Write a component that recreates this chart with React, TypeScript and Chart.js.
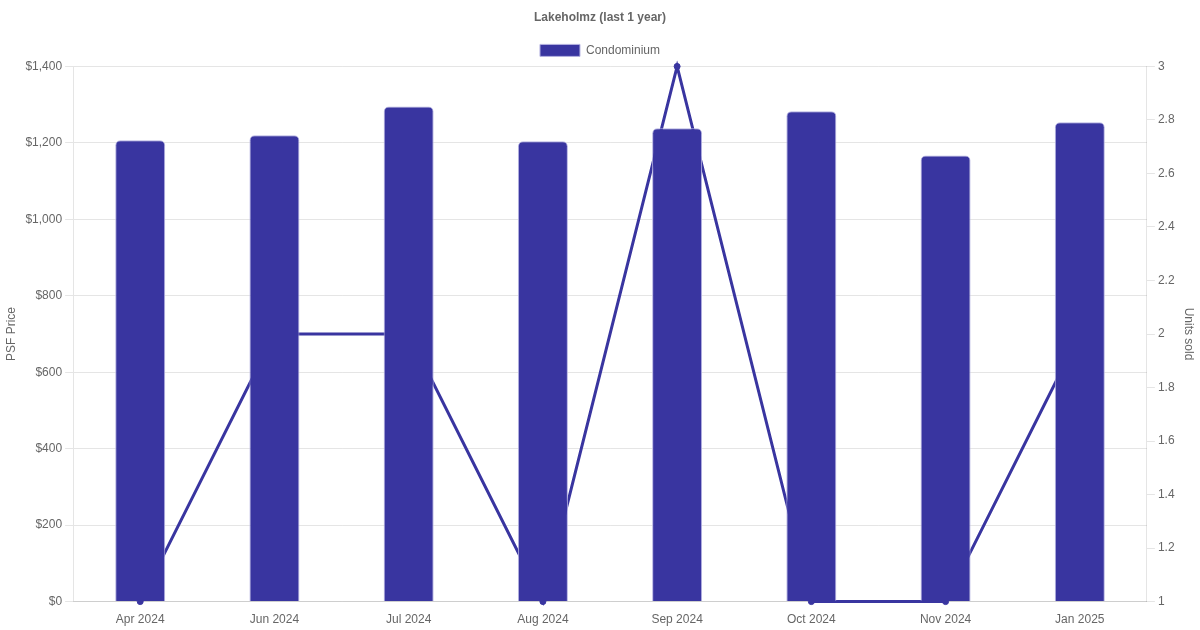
import React, { useEffect, useRef } from 'react';
import { Chart, registerables } from 'chart.js';

Chart.register(...registerables);

const months = ['Apr 2024', 'Jun 2024', 'Jul 2024', 'Aug 2024', 'Sep 2024', 'Oct 2024', 'Nov 2024', 'Jan 2025'];
const psfPrice = [1207, 1220, 1295, 1204, 1238, 1283, 1167, 1254];
const unitsSold = [1, 2, 2, 1, 3, 1, 1, 2];

const barColor = 'rgb(57, 53, 160)';

const App: React.FC = () => {
    const canvasRef = useRef<HTMLCanvasElement>(null);

    useEffect(() => {
        document.body.style.margin = '0';
        if (!canvasRef.current) return;

        const chart = new Chart(canvasRef.current, {
            type: 'bar',
            data: {
                labels: months,
                datasets: [
                    {
                        type: 'bar',
                        label: 'Condominium',
                        data: psfPrice,
                        backgroundColor: barColor,
                        borderColor: 'rgba(180, 178, 225, 1)',
                        borderWidth: 1,
                        borderRadius: { topLeft: 5, topRight: 5 },
                        borderSkipped: 'bottom',
                        maxBarThickness: 50,
                        yAxisID: 'y',
                    },
                    {
                        type: 'line',
                        label: 'Units sold',
                        data: unitsSold,
                        borderColor: barColor,
                        backgroundColor: barColor,
                        borderWidth: 3,
                        pointRadius: 3,
                        pointBorderWidth: 1,
                        tension: 0,
                        fill: false,
                        clip: 6,
                        yAxisID: 'y1',
                    },
                ],
            },
            options: {
                responsive: false,
                maintainAspectRatio: false,
                animation: false,
                plugins: {
                    title: {
                        display: true,
                        text: 'Lakeholmz (last 1 year)',
                        color: '#666',
                        font: { size: 12, weight: 'bold' },
                    },
                    legend: {
                        labels: {
                            color: '#666',
                            filter: (item) => item.text === 'Condominium',
                        },
                    },
                    tooltip: { enabled: false },
                },
                scales: {
                    x: {
                        grid: { display: false },
                        ticks: { color: '#666' },
                    },
                    y: {
                        position: 'left',
                        min: 0,
                        max: 1400,
                        ticks: {
                            stepSize: 200,
                            color: '#666',
                            callback: (v) => '$' + Number(v).toLocaleString('en-US'),
                        },
                        title: { display: true, text: 'PSF Price', color: '#666' },
                    },
                    y1: {
                        position: 'right',
                        min: 1,
                        max: 3,
                        grid: { drawOnChartArea: false },
                        ticks: {
                            stepSize: 0.2,
                            color: '#666',
                            callback: (v) => String(Math.round(Number(v) * 10) / 10),
                        },
                        title: { display: true, text: 'Units sold', color: '#666' },
                    },
                },
            },
        });

        return () => chart.destroy();
    }, []);

    return (
        <div style={{ width: 1200, height: 630 }}>
            <canvas ref={canvasRef} width={1200} height={630} style={{ display: 'block' }} />
        </div>
    );
};

export default App;
